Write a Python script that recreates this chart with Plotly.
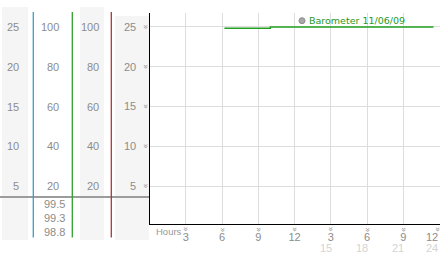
import plotly.graph_objects as go

W, H = 442, 253

# ---- data ----
hour_ticks = [3, 6, 9, 12, 15, 18, 21, 24]
hour_labels = ["3", "6", "9", "12", "3", "6", "9", ""]
last_label = "12"
hour_labels_2 = ["15", "18", "21", "24"]
hour_ticks_2 = [15, 18, 21, 24]
y_ticks = [5, 10, 15, 20, 25]
col1_labels = ["5", "10", "15", "20", "25"]
col2_labels = ["20", "40", "60", "80", "100"]
col3_labels = ["20", "40", "60", "80", "100"]
col2_extra = ["99.5", "99.3", "98.8"]
baro_hours = [6.2, 10.0, 23.5]
baro_vals = [24.84, 25.0, 25.0]
legend_name = "Barometer 11/06/09"

def px(x):
    return x / W

def py(y):
    return 1 - y / H

GRAY_TXT = "#8c8c8c"
FONT = "Liberation Sans"

fig = go.Figure()
fig.add_trace(go.Scatter(
    x=baro_hours, y=baro_vals, mode="lines", line=dict(color="#22a022", width=1.4, shape="hv"),
    name=legend_name, showlegend=False, hoverinfo="skip"))

shapes = []
# gray column backgrounds
for x0, x1, y0, y1 in [(2, 28, 7, 240), (80, 104, 7, 240), (115, 149, 16, 240)]:
    shapes.append(dict(type="rect", xref="paper", yref="paper", x0=px(x0), x1=px(x1),
                       y0=py(y1), y1=py(y0), fillcolor="#f5f5f5", line=dict(width=0), layer="below"))
# horizontal gray baseline
shapes.append(dict(type="line", xref="paper", yref="paper", x0=px(0), x1=px(149),
                   y0=py(197), y1=py(197), line=dict(color="#9c9c9c", width=2)))
# colored vertical lines
for xx, col in [(33.3, "#3a9cc8"), (72.3, "#30a030"), (111.3, "#b03434")]:
    shapes.append(dict(type="line", xref="paper", yref="paper", x0=px(xx), x1=px(xx),
                       y0=py(237.5), y1=py(12), line=dict(color=col, width=1.3)))
# legend marker
shapes.append(dict(type="circle", xref="paper", yref="paper", x0=px(299), x1=px(305),
                   y0=py(23.7), y1=py(17.7), fillcolor="#a8a8a8", line=dict(color="#8c8c8c", width=1)))

ann = []
for yv, t1, t2, t3 in zip(y_ticks, col1_labels, col2_labels, col3_labels):
    for xr, t in [(20.5, t1), (60.5, t2), (100.5, t3)]:
        ann.append(dict(x=px(xr), y=yv, xref="paper", yref="y", text=t, showarrow=False,
                        xanchor="right", yanchor="middle", font=dict(family=FONT, size=11, color=GRAY_TXT)))
    # small marks next to main y axis
    ann.append(dict(x=px(145.5), y=yv, xref="paper", yref="y", text="»", showarrow=False,
                    xanchor="center", yanchor="middle", textangle=90,
                    font=dict(family="DejaVu Sans", size=8, color="#8c8c8c")))
for t, yy in zip(col2_extra, [204, 218, 232]):
    ann.append(dict(x=px(67), y=py(yy), xref="paper", yref="paper", text=t, showarrow=False,
                    xanchor="right", yanchor="middle", font=dict(family=FONT, size=11, color=GRAY_TXT)))
for i, xv in enumerate(hour_ticks):
    last = i == len(hour_ticks) - 1
    ann.append(dict(x=xv, y=py(229.5), xref="x", yref="paper", text="»", showarrow=False,
                    xanchor="center", yanchor="middle", textangle=90, xshift=-2 if last else 0,
                    font=dict(family="DejaVu Sans", size=8, color="#8c8c8c")))
# last first-row label, kept inside the picture
ann.append(dict(x=hour_ticks[-1], y=py(237), xref="x", yref="paper", text=last_label, showarrow=False,
                xanchor="right", yanchor="middle", font=dict(family=FONT, size=11, color=GRAY_TXT)))
for i, (xv, t) in enumerate(zip(hour_ticks_2, hour_labels_2)):
    last = i == len(hour_ticks_2) - 1
    ann.append(dict(x=xv, y=py(247.5), xref="x", yref="paper", text=t, showarrow=False,
                    xanchor="right", xshift=0 if last else 3, yanchor="middle",
                    font=dict(family=FONT, size=11, color="#d4d4d4")))
ann.append(dict(x=px(153.5), y=py(231.5), xref="paper", yref="paper", text="Hours", showarrow=False,
                xanchor="left", yanchor="middle", font=dict(family=FONT, size=9.5, color="#999999")))
ann.append(dict(x=px(306.5), y=py(20.7), xref="paper", yref="paper", text=legend_name, showarrow=False,
                xanchor="left", yanchor="middle", font=dict(family="DejaVu Sans", size=9.5, color="#1e9a1e")))

fig.update_layout(
    width=W, height=H, margin=dict(l=0, r=0, t=0, b=0),
    paper_bgcolor="white", plot_bgcolor="white",
    shapes=shapes, annotations=ann, showlegend=False,
    xaxis=dict(domain=[px(149.5), px(439.5)], range=[0, 24], tickvals=hour_ticks, ticktext=hour_labels,
               showgrid=True, gridcolor="#dddddd", gridwidth=1, zeroline=False,
               showline=True, linecolor="black", linewidth=1.3, ticks="", ticklabelstandoff=3,
               tickfont=dict(family=FONT, size=11, color=GRAY_TXT), fixedrange=True),
    yaxis=dict(domain=[py(224), py(13)], range=[0.22, 26.76], tickvals=y_ticks, ticktext=col1_labels,
               showgrid=True, gridcolor="#dddddd", gridwidth=1, zeroline=False,
               showline=True, linecolor="black", linewidth=1.3, ticks="", ticklabelstandoff=10,
               tickfont=dict(family=FONT, size=11, color=GRAY_TXT), fixedrange=True),
)

fig.write_html("out.html", config={"displayModeBar": False})
